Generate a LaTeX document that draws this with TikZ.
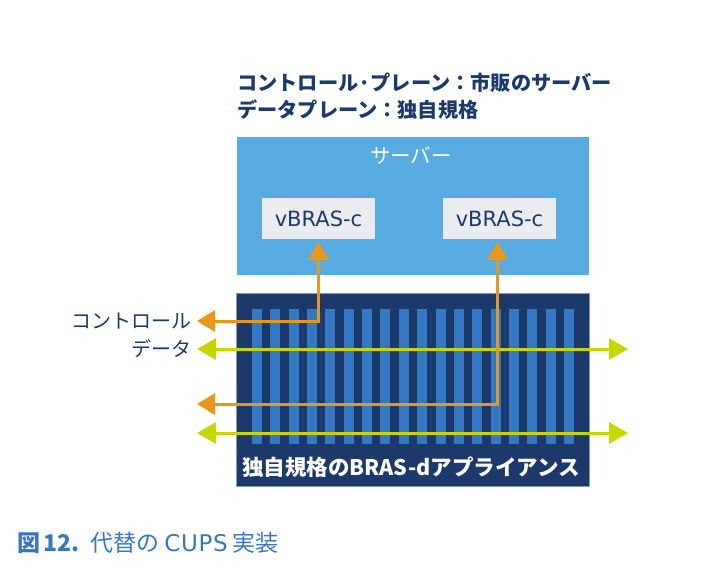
\documentclass[tikz,border=0pt]{standalone}
\usepackage{fontspec}
\setmainfont{Noto Sans CJK JP}
\newfontfamily\latinfont{DejaVu Sans}
\newfontfamily\capfont{DejaVu Sans}[LetterSpace=3]
\usetikzlibrary{positioning,arrows.meta}
\definecolor{cNavy}{HTML}{1B3A6B}
\definecolor{cSky}{HTML}{57ABE0}
\definecolor{cGray}{HTML}{EBECEE}
\definecolor{cStripe}{HTML}{3477C2}
\definecolor{cOrange}{HTML}{E99719}
\definecolor{cLime}{HTML}{C5D600}
\definecolor{cEdge}{HTML}{8798B2}
\definecolor{cCap}{HTML}{3A76BF}

\begin{document}
\begin{tikzpicture}[x=1pt,y=-1pt,
      srvbox/.style={fill=cSky,minimum width=352pt,minimum height=138pt,inner sep=0pt},
      vbox/.style={fill=cGray,text=cNavy,minimum width=113pt,minimum height=41pt,inner sep=0pt,
                   font=\latinfont\fontsize{21}{21}\selectfont},
      appbox/.style={fill=cNavy,draw=cEdge,line width=0.8pt,minimum width=353pt,minimum height=193pt,inner sep=0pt},
      stripe/.style={fill=cStripe},
      ctl/.style={cOrange,line width=3pt,{Triangle[length=18pt,width=21pt]}-{Triangle[length=18pt,width=21pt]}},
      dat/.style={cLime,line width=3pt,{Triangle[length=19pt,width=21pt]}-{Triangle[length=19pt,width=21pt]}},
      sidelab/.style={anchor=east,inner sep=0pt,text=cNavy,font=\fontsize{20}{20}\selectfont},
      head/.style={anchor=west,inner sep=0pt,text=cNavy,font=\bfseries\fontsize{20.2}{20.2}\selectfont}]
    \useasboundingbox (0,0) rectangle (702,576);
    \node[head] (head1) at (237,83) {コントロール·プレーン：市販のサーバー};
    \node[head] (head2) at (237,110) {データプレーン：独自規格};
    \node[srvbox] (srv) at (412.5,206) {};
    \node[inner sep=0pt,text=white,font=\fontsize{20.5}{20.5}\selectfont] (srvlab) at (411,156) {サーバー};
    \node[vbox] (vb1) at (318.5,218.5) {vBRAS-c};
    \node[vbox] (vb2) at (499.5,218.5) {vBRAS-c};
    \node[appbox] (app) at (412.5,389.5) {};
    \foreach \i in {0,...,17}
      \fill[stripe] ({252+\i*18.35},309) rectangle ++(10,135);
    \node[inner sep=0pt,text=white,font=\bfseries\fontsize{21.5}{21.5}\selectfont] (applab) at (411,467) {独自規格のBRAS-dアプライアンス};
    \node[sidelab] (lctl) at (192,321) {コントロール};
    \node[sidelab] (ldat) at (192,349) {データ};
    \coordinate (datL1) at (197,349);
    \coordinate (datR1) at (628,349);
    \coordinate (datL2) at (197,433);
    \coordinate (datR2) at (628,433);
    \coordinate (ctlend1) at (197,321);
    \coordinate (ctlend2) at (197,404);
    \draw[dat] (datL1) -- (datR1);
    \draw[dat] (datL2) -- (datR2);
    \draw[ctl] ([yshift=-3pt]vb1.south) |- (ctlend1);
    \draw[ctl] ([xshift=-2pt,yshift=-3pt]vb2.south) |- (ctlend2);
    \node[anchor=west,inner sep=0pt,text=cCap,font=\fontsize{23}{23}\selectfont] (cap) at (17,543)
      {\textbf{図\hspace{3pt}12.}\hspace{11pt}代替の\hspace{5pt}{\capfont CUPS}\hspace{5pt}実装};
  \end{tikzpicture}
\end{document}
